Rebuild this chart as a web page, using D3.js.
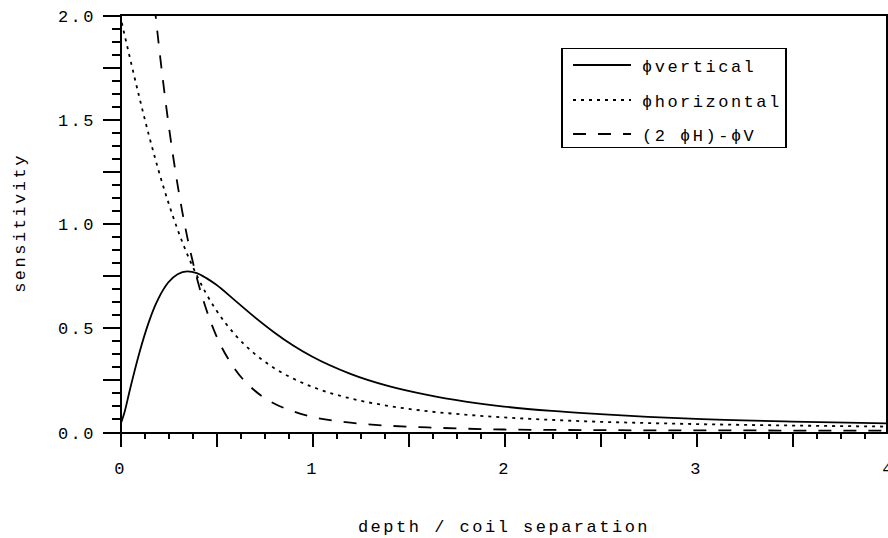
<!DOCTYPE html>
<html>
<head>
<meta charset="utf-8">
<script src="https://cdnjs.cloudflare.com/ajax/libs/d3/7.8.5/d3.min.js"></script>
<style>
  html, body { margin: 0; padding: 0; background: #fff; }
  svg { display: block; }
  text { font-family: "Liberation Mono", "DejaVu Sans Mono", monospace; font-size: 17px; letter-spacing: 2.5px; fill: #000; }
</style>
</head>
<body>
<svg id="chart" width="888" height="538"></svg>
<script>
// ---- data ----
const depth = [0, 0.025, 0.05, 0.1, 0.15, 0.18, 0.2, 0.25, 0.3, 0.35, 0.4, 0.45, 0.5, 0.6, 0.7, 0.8, 0.9, 1.0, 1.2, 1.4, 1.6, 1.8, 2.0, 2.25, 2.5, 2.75, 3.0, 3.5, 4.0];
const phiVertical = [0.03, 0.10, 0.197, 0.377, 0.527, 0.60, 0.640, 0.716, 0.757, 0.770, 0.762, 0.738, 0.707, 0.630, 0.552, 0.480, 0.416, 0.362, 0.279, 0.220, 0.178, 0.146, 0.122, 0.101, 0.086, 0.073, 0.063, 0.050, 0.041];
const phiHorizontal = [2.0, 1.90, 1.801, 1.608, 1.425, 1.323, 1.257, 1.106, 0.971, 0.853, 0.751, 0.662, 0.586, 0.466, 0.376, 0.308, 0.257, 0.217, 0.161, 0.125, 0.100, 0.083, 0.070, 0.058, 0.049, 0.043, 0.038, 0.031, 0.026];
const phiCombined = [null, null, null, null, null, 2.045, 1.874, 1.496, 1.185, 0.936, 0.740, 0.586, 0.465, 0.300, 0.200, 0.138, 0.100, 0.073, 0.045, 0.030, 0.022, 0.016, 0.012, 0.010, 0.009, 0.008, 0.008, 0.007, 0.007];
const seriesNames = ["\u03D5vertical", "\u03D5horizontal", "(2 \u03D5H)-\u03D5V"];
const xLabelTicks = [0, 1, 2, 3, 4];
const yLabelTicks = [0.0, 0.5, 1.0, 1.5, 2.0];
const xTitle = "depth / coil separation";
const yTitle = "sensitivity";

// ---- layout ----
const svg = d3.select("#chart");
const L = 120, R = 887, T = 15, B = 432;
const x = d3.scaleLinear().domain([0, 4]).range([120, 888]);
const y = d3.scaleLinear().domain([0, 2]).range([B, T]);

// frame (top + right)
svg.append("path")
  .attr("d", `M${L},${T}H${R}V${B}`)
  .attr("fill", "none").attr("stroke", "#000").attr("stroke-width", 2)
  .attr("shape-rendering", "crispEdges");

// x axis minor / major ticks
const gx = svg.append("g").attr("transform", `translate(0,${B})`);
gx.append("g").call(d3.axisBottom(x).tickValues(d3.range(0, 4.0001, 0.125)).tickSize(7).tickSizeOuter(0).tickFormat(""));
gx.append("g").call(d3.axisBottom(x).tickValues(d3.range(0, 4.0001, 0.5)).tickSize(15).tickSizeOuter(0)
  .tickFormat(d => xLabelTicks.includes(d) ? d3.format("d")(d) : ""));
// y axis
const gy = svg.append("g").attr("transform", `translate(${L},0)`);
gy.append("g").call(d3.axisLeft(y).tickValues(d3.range(0, 2.0001, 0.0625)).tickSize(8).tickSizeOuter(0).tickFormat(""));
gy.append("g").call(d3.axisLeft(y).tickValues(d3.range(0, 2.0001, 0.25)).tickSize(17).tickSizeOuter(0)
  .tickFormat(d => yLabelTicks.some(v => Math.abs(v - d) < 1e-9) ? d3.format(".1f")(d) : ""));

svg.selectAll(".domain, .tick line").attr("stroke", "#000").attr("stroke-width", 2).attr("shape-rendering", "crispEdges");
svg.selectAll(".tick text").attr("font-family", null).attr("font-size", null).attr("fill", "#000");
gx.selectAll(".tick text").attr("y", 30).attr("dy", "0.71em");
gy.selectAll(".tick text").attr("x", -24).attr("dy", "0.36em");

// axis titles
svg.append("text").attr("x", 504).attr("y", 532).attr("text-anchor", "middle").text(xTitle);
svg.append("text").attr("transform", "translate(25,223) rotate(-90)").attr("text-anchor", "middle").text(yTitle);

// curves
svg.append("clipPath").attr("id", "plotclip").append("rect")
  .attr("x", L).attr("y", T).attr("width", R - L).attr("height", B - T);
const plot = svg.append("g").attr("clip-path", "url(#plotclip)");
const series = [
  { values: phiVertical, dash: null, width: 1.8 },
  { values: phiHorizontal, dash: "3,5", width: 1.8 },
  { values: phiCombined, dash: "13,12", width: 1.8 }
];
series.forEach(s => {
  const pts = depth.map((d, i) => [d, s.values[i]]);
  const line = d3.line().defined(p => p[1] !== null)
    .x(p => x(p[0])).y(p => y(p[1])).curve(d3.curveMonotoneX);
  plot.append("path").attr("d", line(pts))
    .attr("fill", "none").attr("stroke", "#000").attr("stroke-width", s.width)
    .attr("stroke-dasharray", s.dash);
});

// legend
const lg = svg.append("g");
lg.append("rect").attr("x", 562).attr("y", 48.5).attr("width", 224).attr("height", 99)
  .attr("fill", "#fff").attr("stroke", "#000").attr("stroke-width", 1.5).attr("shape-rendering", "crispEdges");
const rowsY = [65, 100, 134];
series.forEach((s, i) => {
  lg.append("line").attr("x1", 573).attr("x2", 631).attr("y1", rowsY[i]).attr("y2", rowsY[i])
    .attr("stroke", "#000").attr("stroke-width", 1.8).attr("stroke-dasharray", s.dash);
  lg.append("text").attr("x", 642).attr("y", rowsY[i] + 7).text(seriesNames[i]);
});
</script>
</body>
</html>
